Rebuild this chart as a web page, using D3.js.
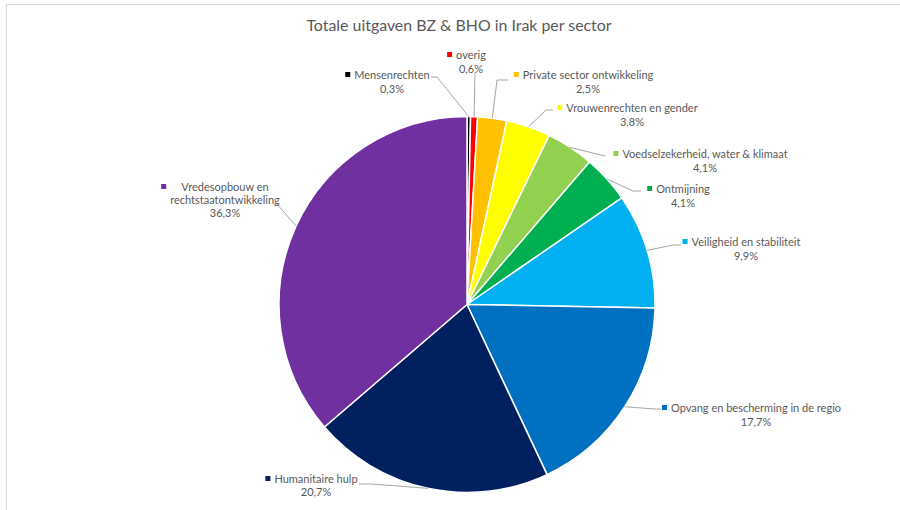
<!DOCTYPE html>
<html>
<head>
<meta charset="utf-8">
<script src="https://cdn.jsdelivr.net/npm/d3@7"></script>
<style>
  html, body { margin: 0; padding: 0; background: #fff; }
  svg { display: block; }
  text { font-family: Lato, "Open Sans", sans-serif; fill: #595959; }
</style>
</head>
<body>
<svg id="chart" width="900" height="510"></svg>
<script>
// ---- data ----
const categories = [
  "Mensenrechten", "overig", "Private sector ontwikkeling", "Vrouwenrechten en gender",
  "Voedselzekerheid, water & klimaat", "Ontmijning", "Veiligheid en stabiliteit",
  "Opvang en bescherming in de regio", "Humanitaire hulp", "Vredesopbouw en rechtstaatontwikkeling"
];
const values = [0.3, 0.6, 2.5, 3.8, 4.1, 4.1, 9.9, 17.7, 20.7, 36.3];
const valueLabels = ["0,3%", "0,6%", "2,5%", "3,8%", "4,1%", "4,1%", "9,9%", "17,7%", "20,7%", "36,3%"];
const colors = ["#000000", "#FF0000", "#FFC000", "#FFFF00", "#92D050", "#00B050", "#00B0F0", "#0070C0", "#002060", "#7030A0"];
const title = "Totale uitgaven BZ & BHO in Irak per sector";

// ---- label layout (annotation placement) ----
const labelLines = [
  ["Mensenrechten"], ["overig"], ["Private sector ontwikkeling"], ["Vrouwenrechten en gender"],
  ["Voedselzekerheid, water & klimaat"], ["Ontmijning"], ["Veiligheid en stabiliteit"],
  ["Opvang en bescherming in de regio"], ["Humanitaire hulp"], ["Vredesopbouw en", "rechtstaatontwikkeling"]
];
const labelCenter = [[392, 79], [471, 59], [588, 79], [632, 112], [705, 158], [683, 193], [746, 246], [756, 412], [316, 483], [225, 191]];
const lineGap = [14, 14, 14, 14, 14, 14, 14, 14, 13, 13];
const leaderPts = [
  [[437, 77], [431, 77]],
  [[475, 72]],
  [[497, 80], [508, 80]],
  [[546, 110], [553, 110]],
  [[605, 156]],
  [[633, 191], [641, 191]],
  [[673, 245], [681, 245]],
  [[655, 409], [661, 409]],
  [[372, 484], [359, 484]],
  [[276, 203]]
];

const svg = d3.select("#chart");
const W = 900, H = 510;
const cx = 467, cy = 304.5, R = 188;

// chart border
svg.append("line").attr("x1", 6).attr("y1", 4.5).attr("x2", W).attr("y2", 4.5).attr("stroke", "#d9d9d9").attr("stroke-width", 1);
svg.append("line").attr("x1", 6.5).attr("y1", 4).attr("x2", 6.5).attr("y2", H).attr("stroke", "#d9d9d9").attr("stroke-width", 1);

// title
svg.append("text").attr("x", 459).attr("y", 31).attr("text-anchor", "middle")
  .style("font-size", "15.9px").text(title);

const pie = d3.pie().sort(null).value(d => d).startAngle(0).endAngle(2 * Math.PI);
const arcs = pie(values);
const arc = d3.arc().innerRadius(0).outerRadius(R);
const edgeArc = d3.arc().innerRadius(R).outerRadius(R);

const g = svg.append("g").attr("transform", `translate(${cx},${cy})`);
g.selectAll("path.slice").data(arcs).enter().append("path")
  .attr("class", "slice")
  .attr("d", arc)
  .attr("fill", (d, i) => colors[i])
  .attr("stroke", "#fff").attr("stroke-width", 1.5).attr("stroke-linejoin", "round");

// leader lines
const line = d3.line();
arcs.forEach((d, i) => {
  const c = edgeArc.centroid(d);
  const pts = [[cx + c[0], cy + c[1]]].concat(leaderPts[i]);
  svg.append("path").attr("d", line(pts)).attr("fill", "none")
    .attr("stroke", "#a6a6a6").attr("stroke-width", 1);
});

// labels
arcs.forEach((d, i) => {
  const [lx, ly] = labelCenter[i];
  const gl = svg.append("g");
  const lines = labelLines[i].concat([valueLabels[i]]);
  let maxW = 0;
  lines.forEach((t, k) => {
    const te = gl.append("text").attr("x", lx).attr("y", ly + k * lineGap[i])
      .attr("text-anchor", "middle").style("font-size", "11px").text(t);
    const w = te.node().getComputedTextLength();
    if (k < lines.length - 1) maxW = Math.max(maxW, w);
  });
  const leftEdge = lx - maxW / 2;
  gl.append("rect").attr("x", leftEdge - 9).attr("y", ly - 7)
    .attr("width", 5).attr("height", 5).attr("fill", colors[i]);
});
</script>
</body>
</html>
